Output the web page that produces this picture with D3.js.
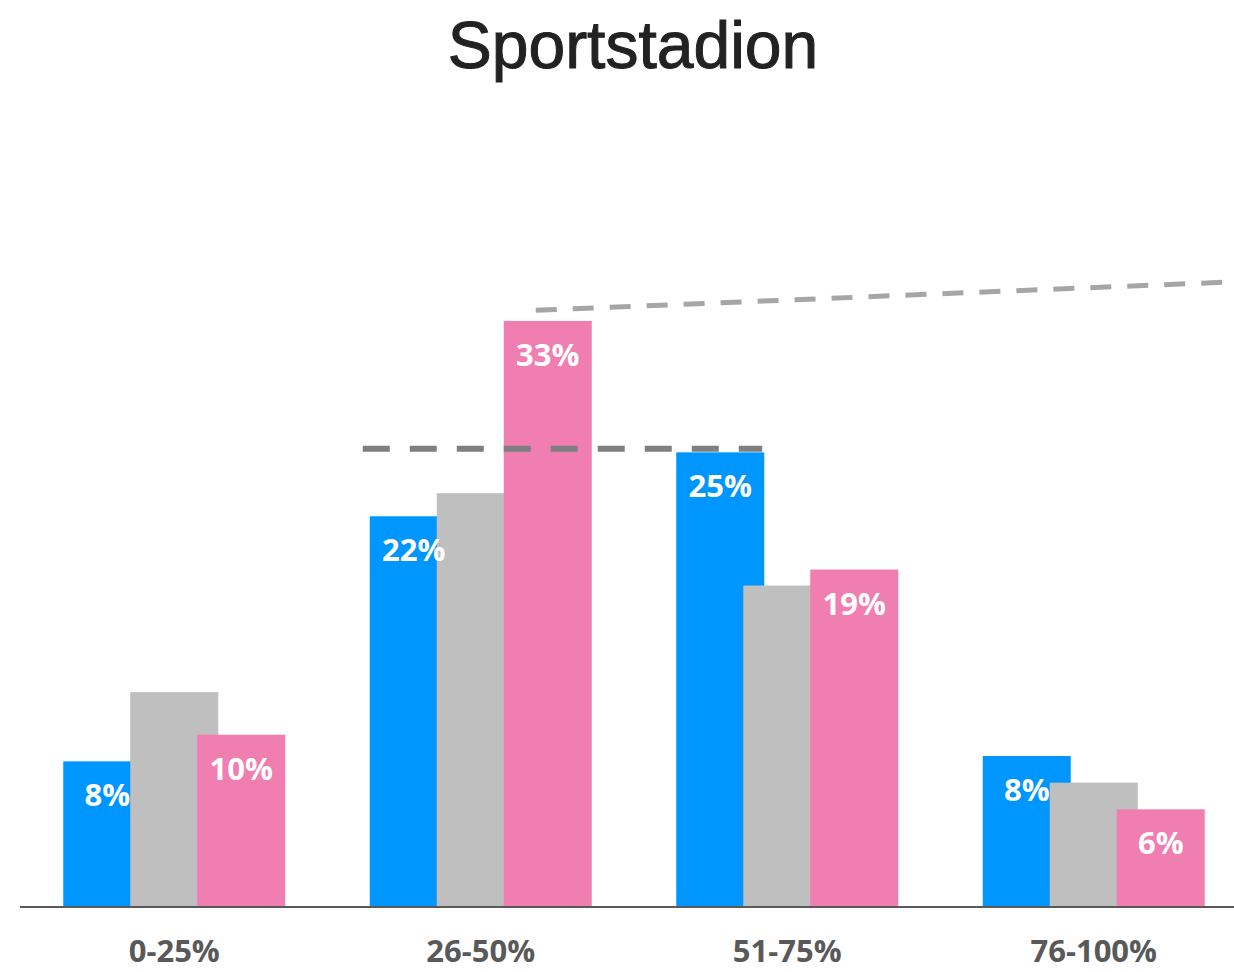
<!DOCTYPE html>
<html>
<head>
<meta charset="utf-8">
<script src="https://cdn.jsdelivr.net/npm/d3@7"></script>
<style>
  body { margin: 0; background: #fff; }
</style>
</head>
<body>
<div id="chart"></div>
<script>
// categories and series
const categories = ["0-25%", "26-50%", "51-75%", "76-100%"];
const blueVals = [8.2, 22.0, 25.6, 8.5];
const greyVals = [12.1, 23.3, 18.1, 7.0];
const pinkVals = [9.7, 33.0, 19.0, 5.5];
const blueLabels = ["8%", "22%", "25%", "8%"];
const pinkLabels = ["10%", "33%", "19%", "6%"];
// reference lines (values in %)
const avgLine = 25.8;
const trendLine = [33.6, 35.2];

const width = 1234, height = 972;
const baseY = 907;

const svg = d3.select("#chart").append("svg")
  .attr("width", width)
  .attr("height", height);

const x = d3.scaleBand()
  .domain(categories)
  .range([21, 1247]);

const y = d3.scaleLinear()
  .domain([0, 40])
  .range([baseY, baseY - 40 * 17.76]);

const barW = 88, barStep = 67;

const series = [
  { vals: blueVals, color: "#0096ff", labels: blueLabels, off: -barStep },
  { vals: greyVals, color: "#bfbfbf", labels: null, off: 0 },
  { vals: pinkVals, color: "#f07eb0", labels: pinkLabels, off: barStep }
];

function center(c) { return x(c) + x.bandwidth() / 2; }

series.forEach(function (s) {
  svg.append("g").selectAll("rect")
    .data(categories)
    .join("rect")
    .attr("x", (c) => center(c) + s.off - barW / 2)
    .attr("y", (c, i) => y(s.vals[i]))
    .attr("width", barW)
    .attr("height", (c, i) => baseY - y(s.vals[i]))
    .attr("fill", s.color);
});

// value labels on top of everything
series.filter((s) => s.labels).forEach(function (s) {
  svg.append("g").selectAll("text")
    .data(categories)
    .join("text")
    .attr("x", (c) => center(c) + s.off)
    .attr("y", (c, i) => y(s.vals[i]) + 45)
    .attr("text-anchor", "middle")
    .attr("fill", "#fff")
    .style("font-family", "'Open Sans', sans-serif")
    .style("font-weight", "bold")
    .style("font-size", "31px")
    .text((c, i) => s.labels[i]);
});

// dark dashed horizontal line
const c2 = center(categories[1]), c3 = center(categories[2]);
svg.append("line")
  .attr("x1", c2 - barStep - barW / 2 - 7)
  .attr("x2", c3 - barStep + barW / 2 - 2)
  .attr("y1", y(avgLine))
  .attr("y2", y(avgLine))
  .attr("stroke", "#7f7f7f")
  .attr("stroke-width", 6)
  .attr("stroke-dasharray", "27,20");

// light sloped dashed line
svg.append("line")
  .attr("x1", c2 + 55)
  .attr("x2", width)
  .attr("y1", y(trendLine[0]))
  .attr("y2", y(trendLine[1]))
  .attr("stroke", "#a6a6a6")
  .attr("stroke-width", 5)
  .attr("stroke-dasharray", "21,16");

// x axis
svg.append("line")
  .attr("x1", 20)
  .attr("x2", width)
  .attr("y1", baseY)
  .attr("y2", baseY)
  .attr("stroke", "#595959")
  .attr("stroke-width", 2);

svg.append("g").selectAll("text")
  .data(categories)
  .join("text")
  .attr("x", (c) => center(c))
  .attr("y", 962)
  .attr("text-anchor", "middle")
  .attr("fill", "#595959")
  .style("font-family", "'Open Sans', sans-serif")
  .style("font-weight", "bold")
  .style("font-size", "31px")
  .text((c) => c);

// title
svg.append("text")
  .attr("x", 633)
  .attr("y", 68)
  .attr("text-anchor", "middle")
  .attr("fill", "#222")
  .attr("stroke", "#222")
  .attr("stroke-width", 1)
  .style("font-family", "'Liberation Sans', Arial, sans-serif")
  .style("font-size", "66px")
  .text("Sportstadion");
</script>
</body>
</html>
